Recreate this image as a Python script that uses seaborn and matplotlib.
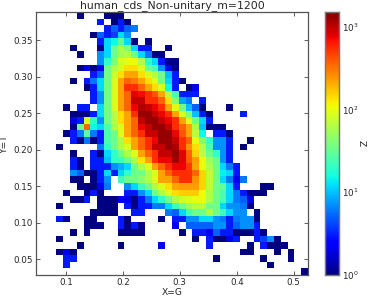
import numpy as np
import pandas as pd
import matplotlib
matplotlib.use('Agg')
import matplotlib.pyplot as plt
from matplotlib.colors import LogNorm
import seaborn as sns

sns.set_style('white')

# bin counts, top row first, trailing empty cells left out
counts = [
    [0,0,0,0,0,0,1,0,0,0, 1,1,1],
    [0,0,0,0,0,0,0,0,0,3, 0,1,3,1],
    [0,0,0,0,0,0,0,0,0,0, 3,5,3,5,6],
    [0,0,0,0,0,0,0,0,1,5, 3,4,12,7],
    [0,0,0,0,0,0,0,0,0,3, 12,15,30,12,1,0,1],
    [0,0,0,0,0,1,0,0,0,1, 12,35,60,40,12,3,3,0,0,1],
    [0,0,0,0,0,0,1,0,0,7, 12,35,55,60,35,12,6,1,1],
    [0,0,0,0,0,0,0,0,0,7, 20,40,90,100,100,60,20,12,3,1, 1],
    [0,0,0,0,0,0,1,2,1,2, 35,60,90,140,140,90,35,25,7,2, 1],
    [0,0,0,0,0,0,0,0,3,5, 35,80,140,220,220,140,90,60,35,10, 3],
    [0,0,0,0,0,1,0,3,6,12, 35,90,220,350,300,220,140,90,35,12, 3,1],
    [0,0,0,0,0,0,0,1,3,12, 35,90,220,550,550,350,220,140,90,15, 3,0,1,2],
    [0,0,0,0,0,0,0,0,3,7, 35,90,220,350,800,700,550,400,220,65, 25,3,3,3],
    [0,0,0,0,0,0,0,0,3,7, 35,90,220,350,950,950,550,550,350,140, 40,8,6,0,3],
    [0,0,0,0,1,0,3,3,0,12, 35,90,220,350,750,1100,950,750,550,220, 90,35,10,5,1,0,0,0,1],
    [0,0,0,0,0,1,1,1,3,12, 35,65,140,220,550,1300,1300,950,750,550, 220,90,40,10,3,1,0,0,0,0, 3],
    [0,0,0,0,0,2,3,90,20,7, 35,65,140,220,350,950,1300,1300,950,750, 550,220,90,35,12,3],
    [0,0,0,0,0,1,35,350,15,12, 25,60,90,220,350,750,950,1300,1300,950, 550,350,220,60,10,1,1,1],
    [0,0,0,0,1,3,6,30,6,3, 25,35,90,220,350,550,950,950,1300,1300, 750,400,220,65,15,0,3,3,1],
    [0,0,0,0,0,3,1,6,1,3, 25,35,60,140,220,350,550,750,1300,1300, 950,550,350,100,40,20,7,7,3,0, 0,1],
    [0,0,0,1,0,0,0,0,0,6, 20,35,60,90,220,350,550,950,950,1300, 1100,550,250,140,65,25,7,7,3,0, 1],
    [0,0,0,0,0,1,0,0,3,1, 12,20,35,60,90,220,350,550,950,950, 1300,800,350,150,65,35,20,7,3],
    [0,0,0,0,0,3,1,0,3,3, 10,20,22,35,60,130,220,550,750,750, 1200,800,380,230,100,50,35,7,3],
    [0,0,0,0,0,3,1,0,3,3, 3,7,9,12,35,60,90,220,350,550, 750,750,500,220,100,60,35,12,6,3],
    [0,0,0,0,0,7,5,1,1,3, 12,3,12,20,35,35,60,90,220,350, 550,550,550,350,150,70,35,14,12,3],
    [0,0,0,0,0,1,1,0,1,3, 7,0,22,35,35,45,60,90,220,220, 350,550,550,250,150,70,35,12,6,2, 6],
    [0,0,0,0,0,0,1,1,1,2, 6,0,0,7,12,22,35,60,90,140, 220,230,230,230,150,65,35,30,12,3, 0,0,0,1,1],
    [0,0,0,0,1,0,0,1,3,1, 0,0,0,3,3,7,12,35,60,90, 140,160,160,160,100,60,35,25,12,6, 3,1,1,1],
    [0,0,0,0,0,1,1,3,0,1, 1,1,2,2,1,3,6,12,20,35, 60,80,90,100,100,60,35,25,12,6, 5,2],
    [0,0,0,1,0,0,0,0,0,1, 1,1,0,3,1,3,3,6,6,12, 22,35,50,60,65,35,35,12,7,7, 6,1],
    [0,0,0,0,0,0,0,0,1,1, 1,1,0,0,3,3,0,0,0,6, 5,12,25,35,35,60,35,22,12,7, 7,0,1],
    [0,0,0,3,1,0,0,1,1,0, 0,0,3,1,0,0,0,0,1,0, 3,3,7,7,12,12,7,6,3,6, 7,7,1],
    [0,0,0,0,0,0,0,1,1,1, 0,0,3,1,3,1,0,0,0,0, 2,0,5,5,5,5,7,7,3,5, 7,7,3],
    [0,0,0,0,0,1,0,1,0,0, 0,0,1,1,1,1,0,0,0,0, 0,1,0,3,3,2,5,3,3,1, 1,1,3,1],
    [0,0,0,1,0,0,0,0,0,0, 0,0,0,0,0,0,0,0,0,0, 0,0,0,1,0,3,1,1,2,3, 0,0,3,4,7,1],
    [0,0,0,0,0,0,1,0,0,0, 0,0,1,0,0,0,0,0,2,0, 0,0,0,0,0,3,0,0,0,0, 0,1,0,3,1,1,1],
    [0,0,0,1,2,1,0,0,0,0, 0,0,0,0,0,0,0,0,0,0, 0,0,0,0,0,0,0,0,0,0, 1,1,0,0,0,1,0,1],
    [0,0,0,0,3,3,0,0,0,0, 0,0,0,0,0,0,0,0,0,0, 0,0,0,0,0,0,1,0,0,0, 0,0,0,1,0,0,0,1],
    [0,0,0,0,3,0,0,0,0,0, 0,0,0,0,0,0,0,0,0,0, 0,0,0,0,0,0,0,0,0,0, 0,0,0,0,1],
    [0,0,0,0,0,0,0,0,0,0, 0,0,0,0,0,0,0,0,0,0, 0,0,0,0,0,0,0,0,0,0, 0,0,0,0,0,0,0,0,0,1],
]

x_range = (0.0478, 0.525)
y_range = (0.0284, 0.389)
x_ticks = [0.1, 0.2, 0.3, 0.4, 0.5]
y_ticks = [0.05, 0.10, 0.15, 0.20, 0.25, 0.30, 0.35]
z_range = (1, 1500)
title = 'human_cds_Non-unitary_m=1200'

n_bins = len(counts)
x_edges = np.linspace(*x_range, n_bins + 1)
y_edges = np.linspace(*y_range, n_bins + 1)
x_mid = (x_edges[:-1] + x_edges[1:]) / 2
y_mid = (y_edges[:-1] + y_edges[1:]) / 2

# long table, one line per filled cell
rows = []
for j, row in enumerate(counts):
    for i, z in enumerate(row):
        if z > 0:
            rows.append((x_mid[i], y_mid[n_bins - 1 - j], z))
df = pd.DataFrame(rows, columns=['x', 'y', 'z'])

fig = plt.figure(figsize=(3.68, 2.99), dpi=100)
ax = fig.add_axes([36 / 368, 24 / 299, 272 / 368, 263 / 299])
cax = fig.add_axes([325 / 368, 24 / 299, 13.5 / 368, 263 / 299])

# seaborn refuses the name 'jet', the colormap object goes through
sns.histplot(
    data=df, x='x', y='y', weights='z',
    bins=n_bins, binrange=(x_range, y_range),
    cmap=plt.get_cmap('jet'), norm=LogNorm(*z_range), vmin=None, vmax=None,
    cbar=True, cbar_ax=cax, ax=ax,
)

ax.set_xlim(x_range)
ax.set_ylim(y_range)
ax.set_xticks(x_ticks)
ax.set_yticks(y_ticks)
ax.set_xticklabels([f'{t:.1f}' for t in x_ticks])
ax.set_yticklabels([f'{t:.2f}' for t in y_ticks])
ax.tick_params(direction='in', length=3, width=0.6, color='#444444', labelsize=6.3,
               top=True, right=True, bottom=True, left=True, pad=2)
ax.set_xlabel('X=G', fontsize=6.6)
ax.set_ylabel('Y=T', fontsize=6.6)
ax.xaxis.set_label_coords(0.5, -0.05)
ax.yaxis.set_label_coords(-0.099, 0.5)
ax.set_title(title, fontsize=7.85, pad=2.5)
for s in ax.spines.values():
    s.set_visible(True)
    s.set_color('#555555')
    s.set_linewidth(0.9)

cax.tick_params(which='major', direction='in', length=2, width=0.6, labelsize=6.3, pad=2.5, right=True)
cax.tick_params(which='minor', length=0)
cax.set_ylabel('Z', fontsize=6.6, rotation=270, va='bottom')
cax.yaxis.set_label_coords(2.32, 0.5)
for s in cax.spines.values():
    s.set_visible(True)
    s.set_color('#777777')
    s.set_linewidth(0.9)

fig.savefig('out.png', dpi=100)
plt.close(fig)
